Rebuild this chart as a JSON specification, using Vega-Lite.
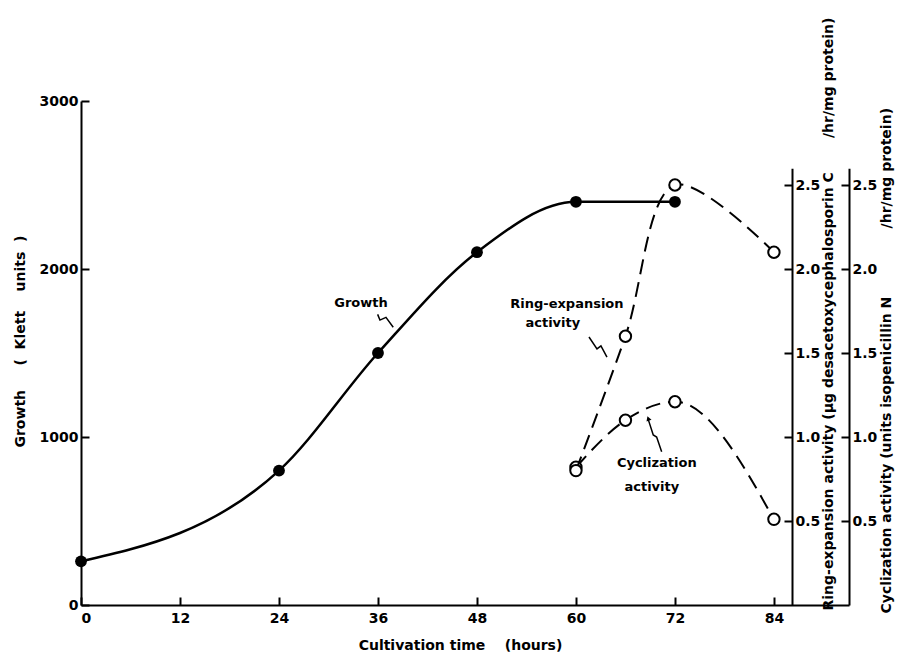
{
  "$schema": "https://vega.github.io/schema/vega-lite/v6.json",
  "width": 768,
  "height": 504,
  "autosize": {"type": "none"},
  "padding": {"left": 81, "top": 101, "right": 54, "bottom": 49},
  "background": "white",
  "datasets": {
    "growth": [
      {"t": 0, "v": 260}, {"t": 24, "v": 800}, {"t": 36, "v": 1500},
      {"t": 48, "v": 2100}, {"t": 60, "v": 2400}, {"t": 72, "v": 2400}
    ],
    "ring": [
      {"t": 60, "v": 0.8}, {"t": 66, "v": 1.6}, {"t": 72, "v": 2.5}, {"t": 84, "v": 2.1}
    ],
    "cyc": [
      {"t": 60, "v": 0.82}, {"t": 66, "v": 1.1}, {"t": 72, "v": 1.21}, {"t": 84, "v": 0.51}
    ],
    "growthArrow": [
      {"t": 35.96, "v": 1730}, {"t": 36.24, "v": 1696}, {"t": 36.97, "v": 1712}, {"t": 37.85, "v": 1653}
    ],
    "ringArrow": [
      {"t": 61.58, "v": 1595}, {"t": 62.55, "v": 1524}, {"t": 63.03, "v": 1542}, {"t": 63.76, "v": 1476}
    ],
    "cycArrow": [
      {"t": 68.76, "v": 1105}, {"t": 69.37, "v": 1012}, {"t": 69.78, "v": 1000}, {"t": 70.39, "v": 912}
    ]
  },
  "config": {
    "view": {"stroke": null},
    "font": "DejaVu Sans",
    "axis": {
      "domainColor": "black", "domainWidth": 2,
      "tickColor": "black", "tickWidth": 2, "tickSize": -8,
      "labelColor": "black", "labelFont": "DejaVu Sans", "labelFontWeight": "bold", "labelFontSize": 14,
      "labelPadding": 11,
      "titleFont": "DejaVu Sans", "titleFontWeight": "bold", "titleFontSize": 14, "titleColor": "black",
      "grid": false
    },
    "text": {"font": "DejaVu Sans", "fontWeight": "bold", "fontSize": 13, "color": "black"}
  },
  "layer": [
    {
      "layer": [
        {
          "data": {"name": "cyc"},
          "mark": {"type": "line", "interpolate": "monotone", "color": "black", "strokeWidth": 2, "strokeDash": [15, 8]},
          "encoding": {
            "x": {"field": "t", "type": "quantitative"},
            "y": {
              "field": "v", "type": "quantitative",
              "scale": {"domain": [0, 2.6], "range": [504, 67.2], "nice": false},
              "axis": {
                "orient": "right", "offset": 0,
                "values": [0.5, 1, 1.5, 2, 2.5], "format": ".1f",
                "title": "Cyclization activity (units isopenicillin N\u00a0\u00a0\u00a0\u00a0\u00a0\u00a0\u00a0\u00a0\u00a0\u00a0\u00a0\u00a0\u00a0\u00a0/hr/mg protein)",
                "titleAngle": 270, "titleAlign": "left", "titleBaseline": "middle",
                "titleX": 37, "titleY": 512
              }
            }
          }
        },
        {
          "data": {"name": "cyc"},
          "mark": {"type": "point", "filled": true, "fill": "white", "stroke": "black", "strokeWidth": 2, "size": 130, "opacity": 1},
          "encoding": {
            "x": {"field": "t", "type": "quantitative"},
            "y": {"field": "v", "type": "quantitative"}
          }
        }
      ]
    },
    {
      "layer": [
        {
          "data": {"name": "ring"},
          "mark": {"type": "line", "interpolate": "catmull-rom", "color": "black", "strokeWidth": 2, "strokeDash": [15, 8]},
          "encoding": {
            "x": {"field": "t", "type": "quantitative"},
            "y": {
              "field": "v", "type": "quantitative",
              "scale": {"domain": [0, 2.6], "range": [504, 67.2], "nice": false},
              "axis": {
                "orient": "right", "offset": -57,
                "values": [0.5, 1, 1.5, 2, 2.5], "format": ".1f",
                "title": "Ring-expansion activity (µg desacetoxycephalosporin C\u00a0\u00a0\u00a0\u00a0\u00a0\u00a0\u00a0/hr/mg protein)",
                "titleAngle": 270, "titleAlign": "left", "titleBaseline": "middle",
                "titleX": 36, "titleY": 509
              }
            }
          }
        },
        {
          "data": {"name": "ring"},
          "mark": {"type": "point", "filled": true, "fill": "white", "stroke": "black", "strokeWidth": 2, "size": 130, "opacity": 1},
          "encoding": {
            "x": {"field": "t", "type": "quantitative"},
            "y": {"field": "v", "type": "quantitative"}
          }
        }
      ]
    },
    {
      "layer": [
        {
          "data": {"name": "growth"},
          "mark": {"type": "line", "interpolate": "monotone", "color": "black", "strokeWidth": 2.5},
          "encoding": {
            "x": {
              "field": "t", "type": "quantitative",
              "scale": {"domain": [0, 93.1], "nice": false, "zero": false},
              "axis": {
                "values": [0, 12, 24, 36, 48, 60, 72, 84],
                "labelPadding": 14,
                "title": "Cultivation time\u00a0\u00a0\u00a0\u00a0(hours)",
                "titleX": 379, "titleY": 40, "titleAlign": "center", "titleBaseline": "middle"
              }
            },
            "y": {
              "field": "v", "type": "quantitative",
              "scale": {"domain": [0, 3000], "nice": false},
              "axis": {
                "orient": "left",
                "values": [0, 1000, 2000, 3000],
                "format": "d",
                "title": "Growth\u00a0\u00a0\u00a0\u00a0\u00a0(\u00a0\u00a0Klett\u00a0\u00a0\u00a0\u00a0units\u00a0\u00a0)",
                "titleAngle": 270, "titleAlign": "center", "titleBaseline": "middle",
                "titleX": -61, "titleY": 240
              }
            }
          }
        },
        {
          "data": {"name": "growth"},
          "mark": {"type": "point", "filled": true, "color": "black", "size": 140, "opacity": 1},
          "encoding": {
            "x": {"field": "t", "type": "quantitative"},
            "y": {"field": "v", "type": "quantitative"}
          }
        },
        {
          "data": {"name": "growthArrow"},
          "mark": {"type": "line", "color": "black", "strokeWidth": 1.5},
          "encoding": {
            "x": {"field": "t", "type": "quantitative"},
            "y": {"field": "v", "type": "quantitative"}
          }
        },
        {
          "data": {"name": "ringArrow"},
          "mark": {"type": "line", "color": "black", "strokeWidth": 1.5},
          "encoding": {
            "x": {"field": "t", "type": "quantitative"},
            "y": {"field": "v", "type": "quantitative"}
          }
        },
        {
          "data": {"name": "cycArrow"},
          "mark": {"type": "line", "color": "black", "strokeWidth": 1.5},
          "encoding": {
            "x": {"field": "t", "type": "quantitative"},
            "y": {"field": "v", "type": "quantitative"}
          }
        },
        {
          "data": {"values": [{}]},
          "mark": {"type": "point", "shape": "triangle-up", "filled": true, "color": "black", "size": 28, "angle": -20, "opacity": 1},
          "encoding": {
            "x": {"datum": 68.76, "type": "quantitative"},
            "y": {"datum": 1110, "type": "quantitative"}
          }
        },
        {
          "data": {"values": [{}]},
          "mark": {"type": "text", "align": "center", "baseline": "middle"},
          "encoding": {
            "x": {"datum": 33.94, "type": "quantitative"},
            "y": {"datum": 1797, "type": "quantitative"},
            "text": {"value": "Growth"}
          }
        },
        {
          "data": {"values": [{}]},
          "mark": {"type": "text", "align": "center", "baseline": "middle"},
          "encoding": {
            "x": {"datum": 58.9, "type": "quantitative"},
            "y": {"datum": 1792, "type": "quantitative"},
            "text": {"value": "Ring-expansion"}
          }
        },
        {
          "data": {"values": [{}]},
          "mark": {"type": "text", "align": "center", "baseline": "middle"},
          "encoding": {
            "x": {"datum": 57.2, "type": "quantitative"},
            "y": {"datum": 1678, "type": "quantitative"},
            "text": {"value": "activity"}
          }
        },
        {
          "data": {"values": [{}]},
          "mark": {"type": "text", "align": "center", "baseline": "middle"},
          "encoding": {
            "x": {"datum": 69.8, "type": "quantitative"},
            "y": {"datum": 845, "type": "quantitative"},
            "text": {"value": "Cyclization"}
          }
        },
        {
          "data": {"values": [{}]},
          "mark": {"type": "text", "align": "center", "baseline": "middle"},
          "encoding": {
            "x": {"datum": 69.2, "type": "quantitative"},
            "y": {"datum": 702, "type": "quantitative"},
            "text": {"value": "activity"}
          }
        }
      ]
    }
  ],
  "resolve": {"scale": {"y": "independent"}}
}
